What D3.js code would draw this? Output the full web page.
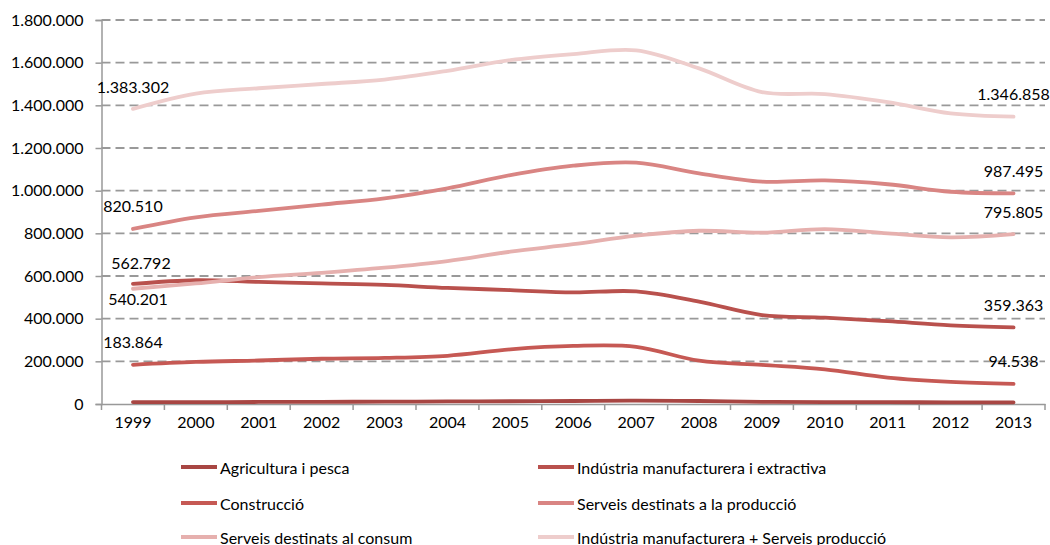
<!DOCTYPE html>
<html>
<head>
<meta charset="utf-8">
<script src="https://cdn.jsdelivr.net/npm/d3@7/dist/d3.min.js"></script>
<style>
  html, body { margin: 0; padding: 0; background: #fff; }
  svg { display: block; font-family: Lato, "Open Sans", sans-serif; }
</style>
</head>
<body>
<svg id="chart" width="1050" height="545"></svg>
<script>
const years = ["1999","2000","2001","2002","2003","2004","2005","2006","2007","2008","2009","2010","2011","2012","2013"];
const yTicks = [0, 200000, 400000, 600000, 800000, 1000000, 1200000, 1400000, 1600000, 1800000];

const seriesNames = [
  "Agricultura i pesca",
  "Indústria manufacturera i extractiva",
  "Construcció",
  "Serveis destinats a la producció",
  "Serveis destinats al consum",
  "Indústria manufacturera + Serveis producció"
];
const agricultura = [9000, 9000, 9500, 10000, 11000, 12000, 13000, 14000, 16000, 14000, 10000, 9000, 8500, 8000, 8000];
const industria   = [562792, 580000, 572000, 565000, 558000, 544000, 534000, 523000, 528000, 480000, 417000, 405000, 388000, 369000, 359363];
const construccio = [183864, 197000, 204000, 212000, 216000, 226000, 256000, 272000, 268000, 203000, 183000, 162000, 124000, 104000, 94538];
const serveisProd = [820510, 875000, 905000, 935000, 964000, 1011000, 1073000, 1117000, 1131000, 1081000, 1042000, 1048000, 1030000, 995000, 987495];
const serveisCons = [540201, 565000, 595000, 615000, 639000, 670000, 714000, 749000, 789000, 812000, 803000, 820000, 800000, 781000, 795805];
const indServ     = [1383302, 1455000, 1480000, 1500000, 1521000, 1562000, 1612000, 1640000, 1658000, 1573000, 1462000, 1453000, 1415000, 1362000, 1346858];

const seriesValues = [agricultura, industria, construccio, serveisProd, serveisCons, indServ];
const colors = ["#A84643", "#B9514D", "#C65954", "#D98583", "#E6B0AE", "#EECDCC"];

// labels: [series index, year index, dx, dy]
const labelSpecs = [
  [5, 0, 0, -22], [5, 14, 0, -23],
  [3, 0, 0, -23], [3, 14, 0, -23],
  [1, 0, 8, -21], [4, 0, 5, 10],
  [4, 14, 0, -23], [1, 14, 0, -23],
  [2, 0, 0, -23], [2, 14, 0, -23]
];

const fmt = v => d3.format(",")(v).replace(/,/g, ".");
const FS = 16;

const svg = d3.select("#chart");
const plotLeft = 101.5, plotRight = 1045, plotTop = 20, plotBottom = 404;

const x = d3.scaleBand().domain(years).range([plotLeft, plotRight]).padding(0);
const y = d3.scaleLinear().domain([0, 1800000]).range([plotBottom, plotTop]);
const cx = d => x(d) + x.bandwidth() / 2;

// gridlines
svg.append("g").selectAll("line").data(yTicks.filter(d => d > 0)).join("line")
  .attr("x1", plotLeft).attr("x2", plotRight)
  .attr("y1", d => y(d)).attr("y2", d => y(d))
  .attr("stroke", "#999").attr("stroke-width", 1.8)
  .attr("stroke-dasharray", "9,5");

// y axis
const yAxis = svg.append("g").attr("transform", `translate(${plotLeft},0)`)
  .call(d3.axisLeft(y).tickValues(yTicks).tickSize(6).tickPadding(12).tickFormat(fmt));
yAxis.select(".domain").attr("stroke", "#999").attr("stroke-width", 1.5);
yAxis.selectAll(".tick line").attr("stroke", "#999").attr("stroke-width", 1.5);
yAxis.selectAll("text").attr("font-size", FS).attr("fill", "#000").attr("font-family", "Lato, sans-serif");

// x axis
const xAxis = svg.append("g").attr("transform", `translate(0,${plotBottom})`)
  .call(d3.axisBottom(x).tickSize(0).tickPadding(13));
xAxis.select(".domain").attr("stroke", "#999").attr("stroke-width", 1.5);
xAxis.selectAll("text").attr("font-size", FS).attr("fill", "#000").attr("font-family", "Lato, sans-serif");
// boundary ticks
const bounds = years.map(d => x(d)).concat([plotRight]);
svg.append("g").selectAll("line").data(bounds).join("line")
  .attr("x1", d => d).attr("x2", d => d)
  .attr("y1", plotBottom).attr("y2", plotBottom + 6)
  .attr("stroke", "#999").attr("stroke-width", 1.5);

// lines
const line = d3.line()
  .x((d, i) => cx(years[i]))
  .y(d => y(d))
  .curve(d3.curveCatmullRom.alpha(0.5));

svg.append("g").selectAll("path").data(seriesValues).join("path")
  .attr("d", d => line(d))
  .attr("fill", "none")
  .attr("stroke", (d, i) => colors[i])
  .attr("stroke-width", 3.8)
  .attr("stroke-linecap", "round");

// data labels
svg.append("g").selectAll("text").data(labelSpecs).join("text")
  .attr("x", d => cx(years[d[1]]) + d[2])
  .attr("y", d => y(seriesValues[d[0]][d[1]]) + d[3])
  .attr("text-anchor", "middle")
  .attr("dominant-baseline", "central")
  .attr("font-size", FS)
  .attr("fill", "#000")
  .text(d => fmt(seriesValues[d[0]][d[1]]));

// legend
const legendX = [181, 538];
const legendY = [467, 503, 537];
const lg = svg.append("g").selectAll("g").data(seriesNames).join("g")
  .attr("transform", (d, i) => `translate(${legendX[i % 2]},${legendY[Math.floor(i / 2)]})`);
lg.append("line").attr("x1", 0).attr("x2", 36).attr("y1", 0).attr("y2", 0)
  .attr("stroke", (d, i) => colors[i]).attr("stroke-width", 3.8);
lg.append("text").attr("x", 39).attr("y", 0)
  .attr("dominant-baseline", "central")
  .attr("font-size", FS).attr("fill", "#000")
  .text(d => d);
</script>
</body>
</html>
